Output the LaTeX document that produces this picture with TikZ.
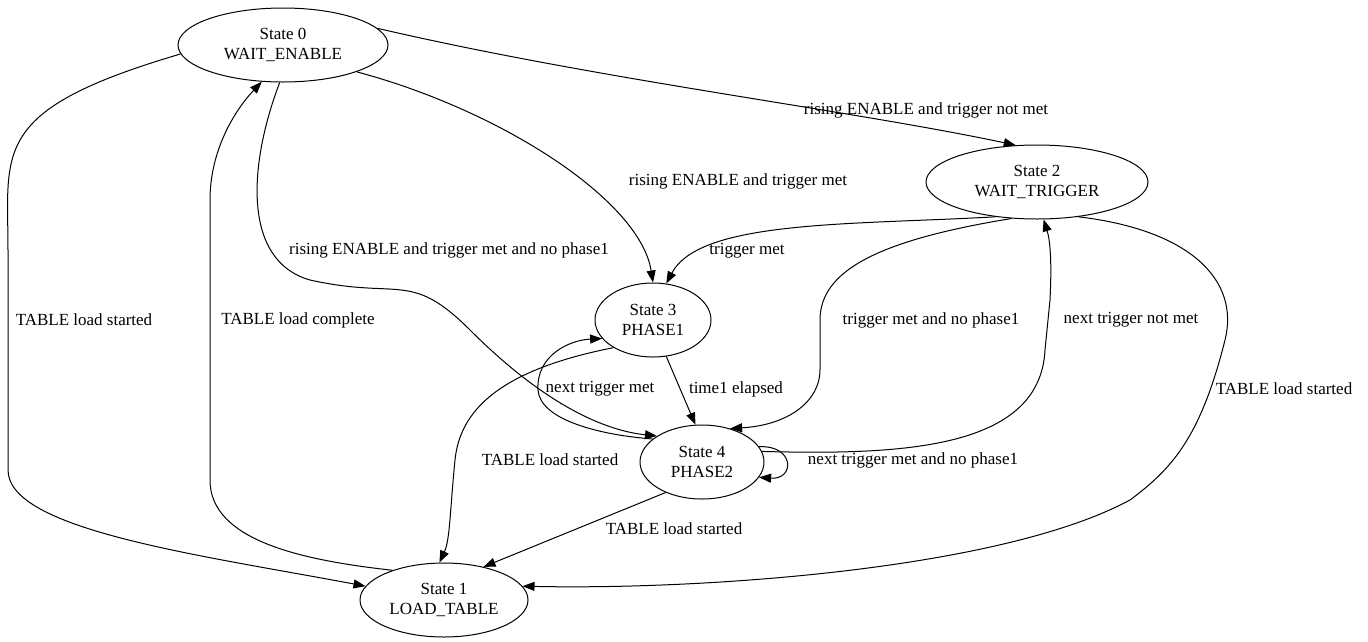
\documentclass[tikz,border=0pt]{standalone}
\usepackage{fontspec}
\setmainfont{Liberation Serif}
\usetikzlibrary{shapes.geometric,arrows.meta}
\begin{document}
\begin{tikzpicture}[x=1pt,y=-1pt,line width=1pt,
  st/.style={ellipse,draw,minimum width=2*#1,minimum height=74pt,inner sep=0pt,align=center,font=\fontsize{17}{20}\selectfont},
  lb/.style={font=\fontsize{17}{20}\selectfont},
  e/.style={draw,-{Triangle[length=12pt,width=9pt]}}]
\useasboundingbox (0,0) rectangle (1368,641);
\node[st=105pt] (s0) at (283,45) {State 0\\WAIT\_ENABLE};
\node[st=111pt] (s2) at (1037,182) {State 2\\WAIT\_TRIGGER};
\node[st=58pt] (s3) at (653,320) {State 3\\PHASE1};
\node[st=62pt] (s4) at (702,462) {State 4\\PHASE2};
\node[st=84pt] (s1) at (444,600) {State 1\\LOAD\_TABLE};
\path[e] (s0.185) .. controls (-10,110) and (8,150) .. (8,250) -- (8,470) .. controls (8,530) and (200,555) .. (s1.170);
\node[lb] at (84,320) {TABLE load started};
\path[e] (s1.150) .. controls (300,560) and (210,540) .. (210,480) -- (210,200) .. controls (210,150) and (235,110) .. (s0.240);
\node[lb] at (298,320) {TABLE load complete};
\path[e] (s0.340) .. controls (500,110) and (640,200) .. (s3.90);
\node[lb] at (738,181) {rising ENABLE and trigger met};
\path[e] (s0.10) .. controls (600,80) and (850,110) .. (s2.120);
\node[lb] at (926,110) {rising ENABLE and trigger not met};
\path[e] (s0.265) .. controls (250,160) and (240,260) .. (310,280) .. controls (400,300) and (410,270) .. (470,330) .. controls (540,400) and (600,430) .. (s4.150);
\node[lb] at (449,250) {rising ENABLE and trigger met and no phase1};
\path[e] (s2.220) .. controls (850,225) and (700,220) .. (s3.70);
\node[lb] at (747,251) {trigger met};
\path[e] (s2.235) .. controls (880,240) and (820,270) .. (820,320) -- (820,370) .. controls (820,400) and (790,425) .. (s4.50);
\node[lb] at (931,320) {trigger met and no phase1};
\path[e] (s4.10) .. controls (900,455) and (1040,450) .. (1045,350) -- (1050,300) .. controls (1052,260) and (1050,240) .. (s2.280);
\node[lb] at (1131,320) {next trigger not met};
\path[e] (s2.320) .. controls (1190,230) and (1240,280) .. (1225,340) .. controls (1200,440) and (1170,470) .. (1130,500) .. controls (1000,570) and (700,590) .. (s1.10);
\node[lb] at (1284,389) {TABLE load started};
\path[e] (s3.290) -- (s4.100);
\node[lb] at (736,389) {time1 elapsed};
\path[e] (s4.155) .. controls (600,435) and (540,420) .. (538,390) .. controls (536,355) and (570,340) .. (s3.200);
\node[lb] at (600,389) {next trigger met};
\path[e] (s3.215) .. controls (500,370) and (460,410) .. (455,460) .. controls (450,510) and (450,540) .. (s1.97);
\node[lb] at (550,460) {TABLE load started};
\path[e] (s4.220) -- (s1.40);
\node[lb] at (674,529) {TABLE load started};
\path[e] (s4.15) .. controls (795,445) and (795,480) .. (s4.345);
\node[lb] at (913,460) {next trigger met and no phase1};
\end{tikzpicture}
\end{document}
